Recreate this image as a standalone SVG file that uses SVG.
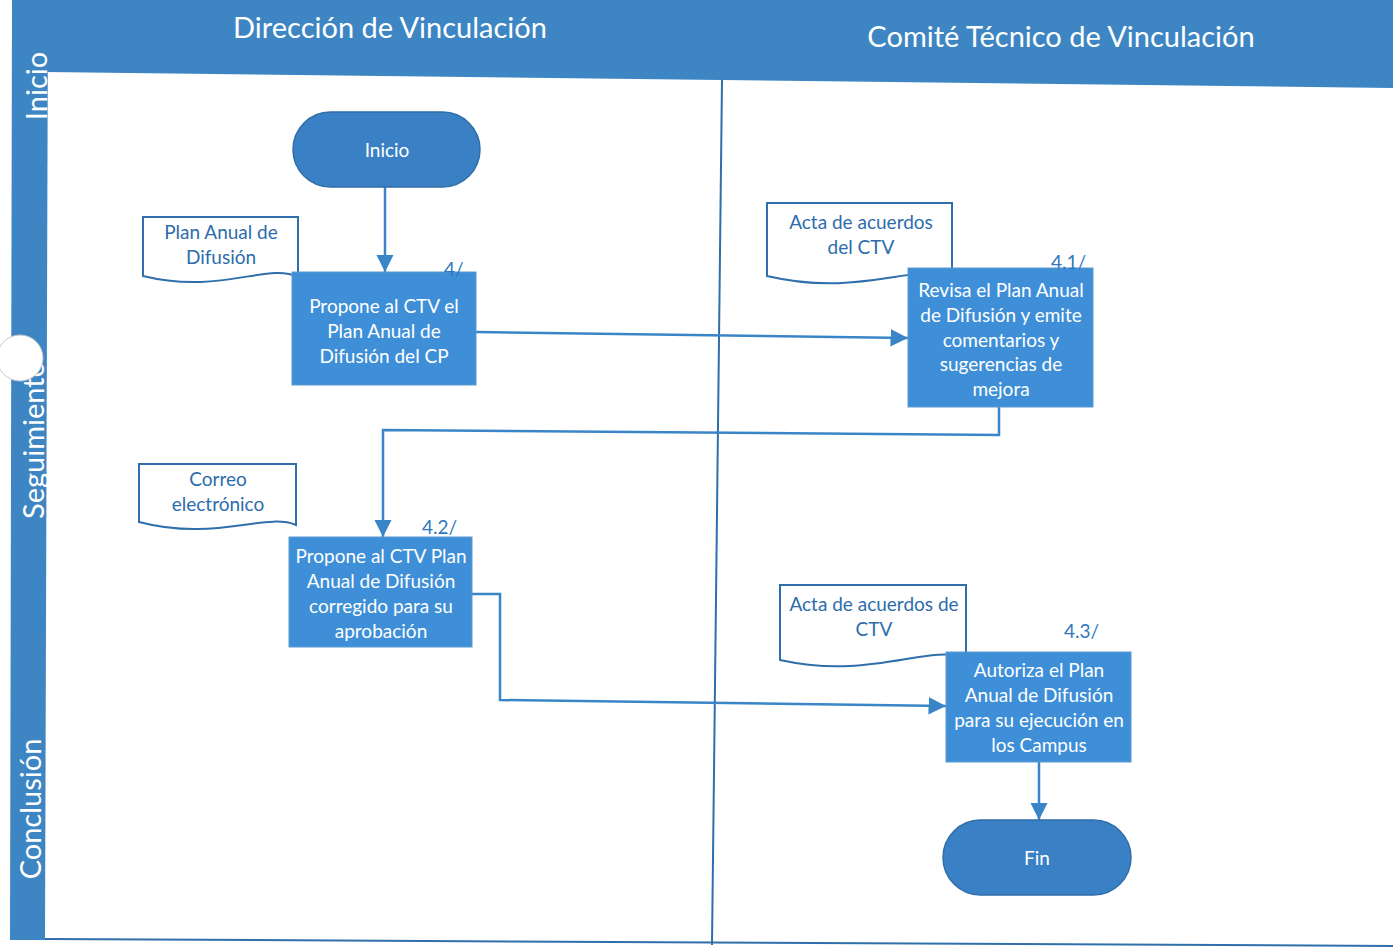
<svg xmlns="http://www.w3.org/2000/svg" width="1393" height="949" viewBox="0 0 1393 949">
<style>
.band{fill:#3d86c3}
.hdr{font-family:Lato,"Liberation Sans",sans-serif;font-size:29px;fill:#ffffff}
.side{font-family:Lato,"Liberation Sans",sans-serif;font-size:29px;fill:#ffffff}
.proc{fill:#3e8fd8;stroke:#5a9ad0;stroke-width:1}
.term{fill:#3a80c4;stroke:#2f6ea8;stroke-width:1.5}
.wt{font-family:Lato,"Liberation Sans",sans-serif;font-size:19px;fill:#ffffff;text-anchor:middle}
.doc{fill:#ffffff;stroke:#2f6faa;stroke-width:2}
.dt{font-family:Lato,"Liberation Sans",sans-serif;font-size:19px;fill:#2c6cab;text-anchor:middle}
.num{font-family:Lato,"Liberation Sans",sans-serif;font-size:19px;fill:#2f78c0}
.con{fill:none;stroke:#3a85c8;stroke-width:2.5}
.lane{fill:none;stroke:#2f6faa;stroke-width:2}
</style>
<defs>
<marker id="ah" viewBox="0 0 10 10" refX="10" refY="5" markerWidth="7" markerHeight="8" markerUnits="strokeWidth" orient="auto">
<path d="M0,0 L10,5 L0,10 z" fill="#3a85c8"/>
</marker>
</defs>
<rect x="0" y="0" width="1393" height="949" fill="#ffffff"/>
<g id="lanes">
<polygon class="band" points="12,0 1393,0 1393,88 45,72 12,72"/>
<polygon class="band" points="12,0 48,0 45,940 10,940"/>
<line class="lane" x1="722" y1="80" x2="712" y2="945"/>
<line class="lane" x1="45" y1="939" x2="1393" y2="946"/>
<text class="hdr" x="390" y="38" text-anchor="middle">Dirección de Vinculación</text>
<text class="hdr" x="1061" y="47" text-anchor="middle">Comité Técnico de Vinculación</text>
<text class="side" transform="translate(47,86) rotate(-90)" text-anchor="middle">Inicio</text>
<text class="side" transform="translate(44,440) rotate(-90)" text-anchor="middle">Seguimiento</text>
<text class="side" transform="translate(41,809) rotate(-90)" text-anchor="middle">Conclusión</text>
<circle cx="20" cy="358" r="23" fill="#ffffff" stroke="#c8c8c8" stroke-width="1"/>
</g>
<g id="connectors">
<path class="con" d="M385,187 V272" marker-end="url(#ah)"/>
<path class="con" d="M476,332 L908,338" marker-end="url(#ah)"/>
<path class="con" d="M999,407 V435 L383,430 V537" marker-end="url(#ah)"/>
<path class="con" d="M472,594 H500 V700 L946,706" marker-end="url(#ah)"/>
<path class="con" d="M1039,762 V820" marker-end="url(#ah)"/>
</g>
<g id="inicio">
<rect class="term" x="293" y="112" width="187" height="75" rx="37.5"/>
<text class="wt" x="387" y="157">Inicio</text>
</g>
<g id="doc-plan">
<path class="doc" d="M143,217 H298 V277 C268,262 220,295 143,276 Z"/>
<text class="dt" x="221" y="239">Plan Anual de</text>
<text class="dt" x="221" y="264">Difusión</text>
</g>
<g id="p4">
<rect class="proc" x="292" y="272" width="184" height="113"/>
<text class="num" x="444" y="276">4/</text>
<text class="wt" x="384" y="313">Propone al CTV el</text>
<text class="wt" x="384" y="338">Plan Anual de</text>
<text class="wt" x="384" y="363">Difusión del CP</text>
</g>
<g id="doc-acta1">
<path class="doc" d="M767,203 H952 V277 C915,262 860,298 767,276 Z"/>
<text class="dt" x="861" y="229">Acta de acuerdos</text>
<text class="dt" x="861" y="254">del CTV</text>
</g>
<g id="p41">
<rect class="proc" x="908" y="268" width="185" height="139"/>
<text class="num" x="1051" y="269">4.1/</text>
<text class="wt" x="1001" y="297">Revisa el Plan Anual</text>
<text class="wt" x="1001" y="322">de Difusión y emite</text>
<text class="wt" x="1001" y="347">comentarios y</text>
<text class="wt" x="1001" y="371">sugerencias de</text>
<text class="wt" x="1001" y="396">mejora</text>
</g>
<g id="doc-correo">
<path class="doc" d="M139,464 H296 V525 C265,512 215,542 139,522 Z"/>
<text class="dt" x="218" y="486">Correo</text>
<text class="dt" x="218" y="511">electrónico</text>
</g>
<g id="p42">
<rect class="proc" x="289" y="537" width="183" height="110"/>
<text class="num" x="422" y="534">4.2/</text>
<text class="wt" x="381" y="563">Propone al CTV Plan</text>
<text class="wt" x="381" y="588">Anual de Difusión</text>
<text class="wt" x="381" y="613">corregido para su</text>
<text class="wt" x="381" y="638">aprobación</text>
</g>
<g id="doc-acta2">
<path class="doc" d="M780,585 H966 V657 C925,645 870,680 780,660 Z"/>
<text class="dt" x="874" y="611">Acta de acuerdos de</text>
<text class="dt" x="874" y="636">CTV</text>
</g>
<g id="p43">
<rect class="proc" x="946" y="652" width="185" height="110"/>
<text class="num" x="1064" y="638">4.3/</text>
<text class="wt" x="1039" y="677">Autoriza el Plan</text>
<text class="wt" x="1039" y="702">Anual de Difusión</text>
<text class="wt" x="1039" y="727">para su ejecución en</text>
<text class="wt" x="1039" y="752">los Campus</text>
</g>
<g id="fin">
<rect class="term" x="943" y="820" width="188" height="75" rx="37.5"/>
<text class="wt" x="1037" y="865">Fin</text>
</g>
</svg>
